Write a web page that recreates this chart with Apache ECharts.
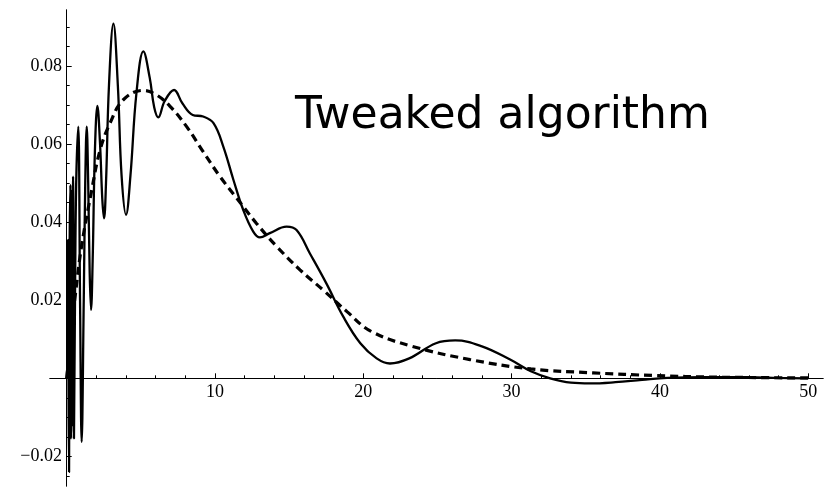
<!DOCTYPE html>
<html>
<head>
<meta charset="utf-8">
<script src="https://cdn.jsdelivr.net/npm/echarts@6/dist/echarts.min.js"></script>
<style>
  html, body { margin: 0; padding: 0; background: #fff; }
  #chart { width: 828px; height: 487px; }
</style>
</head>
<body>
<div id="chart"></div>
<script>
// tweaked algorithm (solid)
var solidX = [0, 0.05, 0.09, 0.13, 0.16, 0.2, 0.25, 0.29, 0.33, 0.38, 0.43, 0.49, 0.56, 0.64, 0.78, 0.9, 1.01,
  1.15, 1.25, 1.35, 1.45, 1.55, 1.64, 1.75, 1.9, 2.07, 2.25, 2.4, 2.52, 2.65, 2.85, 3.15, 3.45, 3.7, 4.0,
  4.3, 4.7, 5.17, 5.6, 5.9, 6.18, 6.6, 7.24, 7.8, 8.5, 9.2, 9.9, 10.56, 11.24, 11.9, 12.58, 13.03, 13.7,
  14.83, 15.5, 16.4, 17.5, 18.65, 19.8, 20.9, 21.8, 23.1, 24.9, 26.2, 28, 29.9, 31.3, 32.6, 34, 35.3, 37,
  38.8, 40.5, 43, 46, 48, 50];
var solidY = [0, 0.004, 0.0355, -0.008, -0.024, 0.035, 0.0496, -0.0154, 0.048, -0.012, 0.0517, -0.0154, 0.02, 0.05, 0.0645, 0.02, -0.0163,
  0.02, 0.05, 0.0645, 0.05, 0.027, 0.0175, 0.03, 0.058, 0.0698, 0.06, 0.046, 0.041, 0.05, 0.075, 0.0909, 0.075, 0.052, 0.0419,
  0.052, 0.073, 0.0838, 0.077, 0.0695, 0.0669, 0.071, 0.0739, 0.0705, 0.0675, 0.0671, 0.0654, 0.0594, 0.0509, 0.0432, 0.0376, 0.0361, 0.0372,
  0.0389, 0.038, 0.032, 0.0244, 0.0158, 0.009, 0.0051, 0.0038, 0.0051, 0.009, 0.0097, 0.0082, 0.0048, 0.0018, 0, -0.0011, -0.0013, -0.001,
  -0.0004, 0.0001, 0.0003, 0.0003, 0.0001, 0];

// reference curve (dashed)
var dashedX = [0, 0.3, 0.6, 1.0, 1.69, 2.25, 2.92, 3.82, 5.17, 6.07, 6.97, 8.09, 9.2, 10.34, 11.46, 12.8, 14.16,
  15.73, 17.3, 18.9, 20.5, 23.3, 27.2, 31.3, 35.5, 39.7, 43.8, 50];
var dashedY = [0, 0.012, 0.022, 0.0338, 0.0483, 0.0585, 0.0654, 0.0714, 0.0738, 0.0726, 0.0697, 0.0645, 0.0581, 0.0517, 0.0462, 0.0397, 0.0338,
  0.0278, 0.0226, 0.0171, 0.0121, 0.0082, 0.0048, 0.0024, 0.0014, 0.0007, 0.0003, 0.0001];

var xMajor = [10, 20, 30, 40, 50];
var xMinor = [2, 4, 6, 8, 12, 14, 16, 18, 22, 24, 26, 28, 32, 34, 36, 38, 42, 44, 46, 48];
var yMajor = [-0.02, 0.02, 0.04, 0.06, 0.08];
var yMinor = [-0.025, -0.015, -0.01, -0.005, 0.005, 0.01, 0.015, 0.025, 0.03, 0.035, 0.045, 0.05, 0.055, 0.065, 0.07, 0.075, 0.085, 0.09];

var chart = echarts.init(document.getElementById('chart'));

var labelFont = {
  color: '#000',
  fontFamily: 'Liberation Serif, Times New Roman, serif',
  fontSize: 18
};

// labels stay at the grid edge, so pull them back to the zero lines
function xAxisCfg(ticks, len, labels) {
  return {
    type: 'value',
    min: -1.126,
    max: 51.0,
    position: 'bottom',
    axisLine: { onZero: true, onZeroAxisIndex: 0, lineStyle: { color: '#000', width: 1 } },
    axisTick: { show: true, inside: true, length: len, customValues: ticks, lineStyle: { color: '#000' } },
    axisLabel: labels ? Object.assign({ show: true, margin: -103, customValues: labels }, labelFont) : { show: false },
    splitLine: { show: false }
  };
}

function yAxisCfg(ticks, len, labels) {
  return {
    type: 'value',
    min: -0.0276,
    max: 0.0944,
    position: 'left',
    axisLine: { onZero: true, onZeroAxisIndex: 0, lineStyle: { color: '#000', width: 1 } },
    axisTick: { show: true, inside: true, length: len, customValues: ticks, lineStyle: { color: '#000' } },
    axisLabel: labels ? Object.assign({
      show: true,
      margin: -12,
      customValues: labels,
      formatter: function (v) { return v.toFixed(2).replace('-', '\u2212'); }
    }, labelFont) : { show: false },
    splitLine: { show: false }
  };
}

chart.setOption({
  animation: false,
  backgroundColor: '#fff',
  grid: { left: 50, right: 5, top: 10, bottom: 1, containLabel: false },
  xAxis: [xAxisCfg(xMajor, 5, xMajor), xAxisCfg(xMinor, 3, null)],
  yAxis: [yAxisCfg(yMajor, 5, yMajor), yAxisCfg(yMinor, 3, null)],
  graphic: [{
    type: 'text',
    left: 295,
    top: 95,
    style: {
      text: 'Tweaked algorithm',
      fill: '#000',
      fontFamily: "'Comic Sans MS', 'DejaVu Sans', sans-serif",
      fontSize: 44
    }
  }],
  series: [{
    type: 'line',
    data: dashedX.map(function (x, i) { return [x, dashedY[i]]; }),
    showSymbol: false,
    smooth: 0.4,
    lineStyle: { color: '#000', width: 3.2, type: [8, 5] },
    z: 2
  }, {
    type: 'line',
    data: solidX.map(function (x, i) { return [x, solidY[i]]; }),
    showSymbol: false,
    smooth: 0.4,
    lineStyle: { color: '#000', width: 2.3 },
    z: 3
  }]
});
</script>
</body>
</html>
